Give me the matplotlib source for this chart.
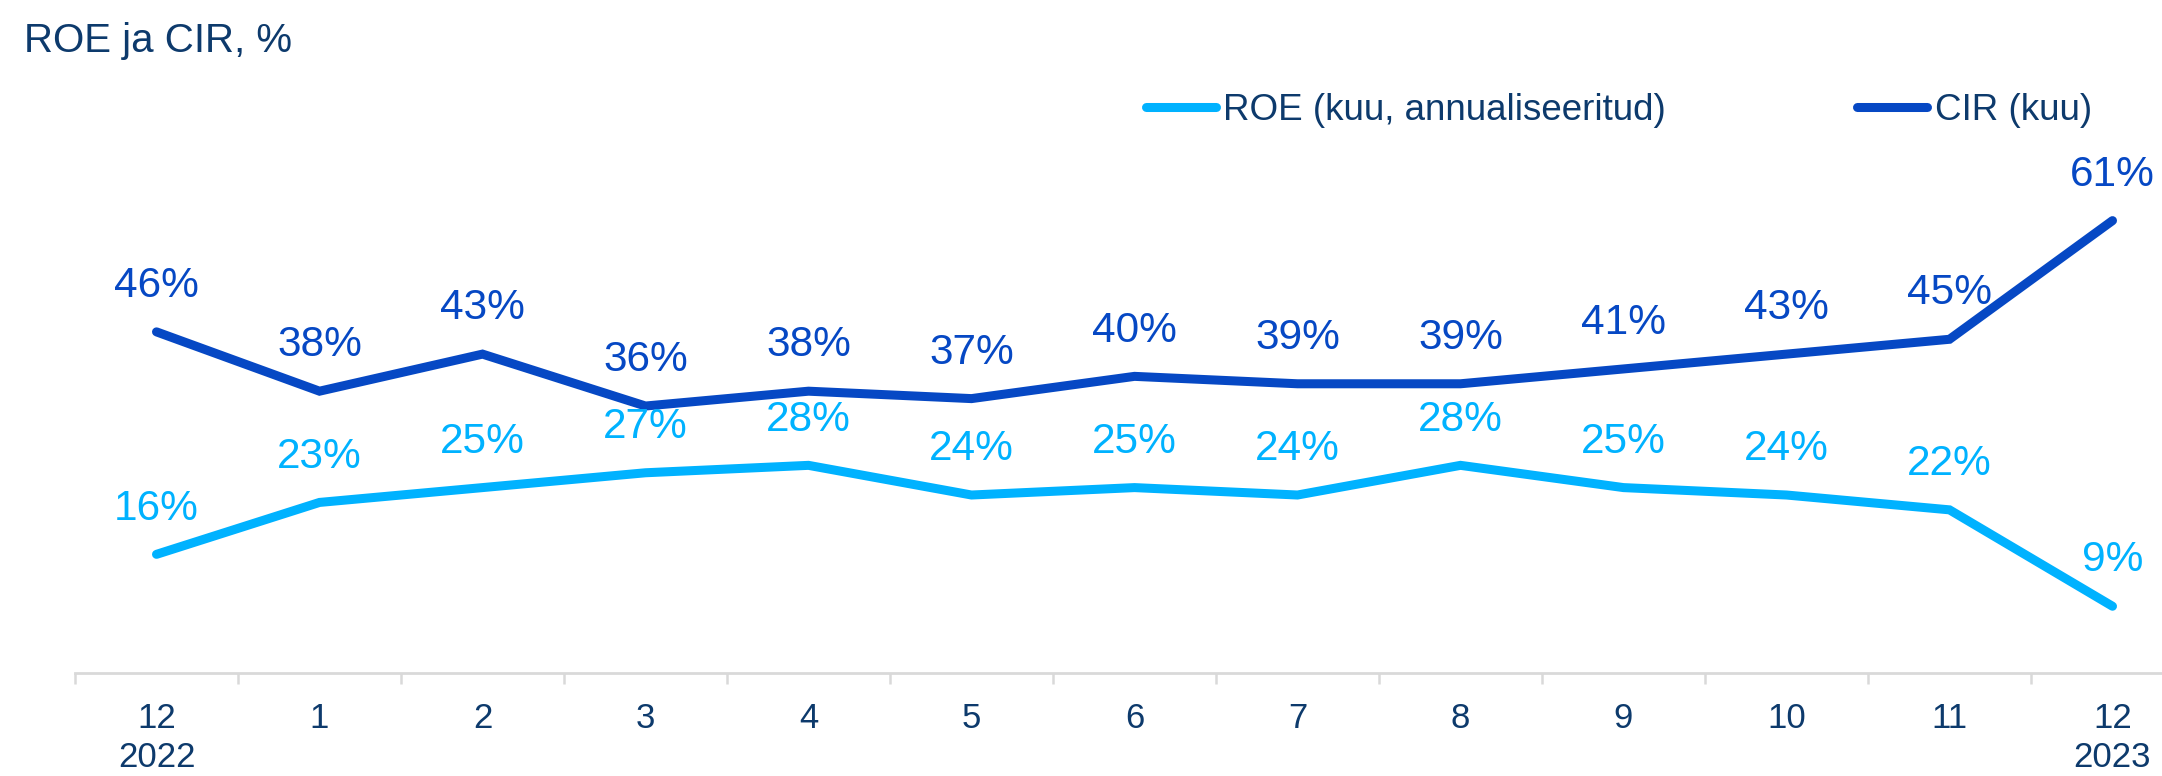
import matplotlib
matplotlib.use("Agg")
import matplotlib.pyplot as plt

plt.rcParams['font.family'] = ['Liberation Sans', 'DejaVu Sans']

months = ["12\n2022", "1", "2", "3", "4", "5", "6", "7", "8", "9", "10", "11", "12\n2023"]
roe = [16, 23, 25, 27, 28, 24, 25, 24, 28, 25, 24, 22, 9]
cir = [46, 38, 43, 36, 38, 37, 40, 39, 39, 41, 43, 45, 61]

roe_color = "#00b2ff"
cir_color = "#0648c4"
navy = "#0d3a6c"
grey = "#d9d9d9"

W, H = 2162, 776
fig = plt.figure(figsize=(W / 100, H / 100), dpi=100)

# axes placed in pixels: x from -0.5..12.5, y from 0..80
px_per_cat = 163
px_per_pct = 7.416
left, bottom = 75, 776 - 673
ax = fig.add_axes([left / W, bottom / H, 13 * px_per_cat / W, 80 * px_per_pct / H])
ax.set_xlim(-0.5, 12.5)
ax.set_ylim(0, 80)

x = list(range(len(months)))
ax.plot(x, roe, color=roe_color, lw=6.5, solid_capstyle='round', solid_joinstyle='miter',
        label="ROE (kuu, annualiseeritud)", clip_on=False)
ax.plot(x, cir, color=cir_color, lw=6.5, solid_capstyle='round', solid_joinstyle='miter',
        label="CIR (kuu)", clip_on=False)

for xi, v in zip(x, roe):
    ax.annotate(f"{v}%", (xi, v), xytext=(0, 33), textcoords='offset points',
                ha='center', va='center', fontsize=30.5, color=roe_color)
for xi, v in zip(x, cir):
    ax.annotate(f"{v}%", (xi, v), xytext=(0, 33), textcoords='offset points',
                ha='center', va='center', fontsize=30.5, color=cir_color)

for s in ['top', 'right', 'left']:
    ax.spines[s].set_visible(False)
ax.spines['bottom'].set_color(grey)
ax.spines['bottom'].set_linewidth(2)
ax.set_yticks([])
ax.set_xticks(x)
ax.set_xticklabels(months, fontsize=25, color=navy, linespacing=1.22)
ax.set_xticks([i - 0.5 for i in range(14)], minor=True)
ax.tick_params(axis='x', which='major', length=0, pad=21)
ax.tick_params(axis='x', which='minor', length=8, width=1.8, color=grey)

fig.text(24 / W, 1 - 51.7 / H, "ROE ja CIR, %", fontsize=29, color=navy, va='baseline', ha='left')

leg = ax.legend(loc='center left', bbox_to_anchor=(1146 / W, 1 - 110 / H),
                bbox_transform=fig.transFigure, ncol=2, frameon=False, fontsize=26.5,
                handlelength=1.9, handletextpad=0.2, columnspacing=5.2,
                borderpad=0, borderaxespad=0)
for t in leg.get_texts():
    t.set_color(navy)

fig.savefig("out.png", dpi=100)
